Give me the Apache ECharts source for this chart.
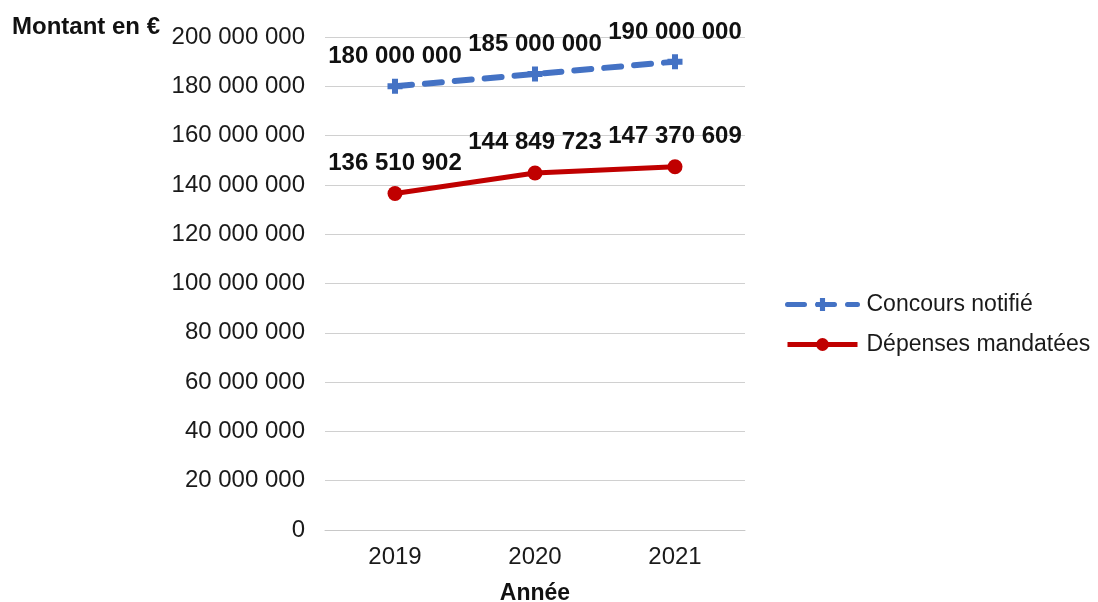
<!DOCTYPE html>
<html><head><meta charset="utf-8">
<script src="https://cdn.jsdelivr.net/npm/echarts@6/dist/echarts.min.js"></script>
<style>html,body{margin:0;padding:0;background:#fff}#c{width:1098px;height:602px}</style>
</head><body><div id="c"></div>
<script>
const categories = ['2019', '2020', '2021'];
const concoursNotifie = [180000000, 185000000, 190000000];
const depensesMandatees = [136510902, 144849723, 147370609];
const seriesNames = ['Concours notifié', 'Dépenses mandatées'];

function fmt(v) {
  return String(Math.round(v)).replace(/\B(?=(\d{3})+(?!\d))/g, ' ');
}
const FONT = '"Liberation Sans", Arial, sans-serif';
const plus = 'path://M3,0h4v3h3v4h-3v3h-4v-3h-3v-4h3z';

const chart = echarts.init(document.getElementById('c'));
chart.setOption({
  animation: false,
  grid: { left: 325, right: 353, top: 37, bottom: 72, outerBoundsMode: 'none', containLabel: false },
  xAxis: {
    type: 'category', data: categories,
    axisLine: { lineStyle: { color: '#c8c8c8', width: 1 } },
    axisTick: { show: false },
    axisLabel: { fontSize: 24, color: '#1a1a1a', fontFamily: FONT, margin: 15 },
    name: 'Année', nameLocation: 'middle', nameGap: 52,
    nameTextStyle: { fontSize: 23, fontWeight: 'bold', color: '#111', fontFamily: FONT }
  },
  yAxis: {
    type: 'value', min: 0, max: 200000000, interval: 20000000,
    axisLine: { show: false }, axisTick: { show: false },
    splitLine: { lineStyle: { color: '#d0d0d0', width: 1 } },
    axisLabel: { fontSize: 24, color: '#1a1a1a', fontFamily: FONT, margin: 20, formatter: fmt }
  },
  legend: {
    orient: 'vertical', left: 780, top: 288,
    itemWidth: 70, itemHeight: 16, itemGap: 17,
    lineStyle: { width: 5 },
    textStyle: { fontSize: 23, color: '#1a1a1a', fontFamily: FONT, padding: [0, 0, 0, 4] },
    data: seriesNames
  },
  graphic: [{
    type: 'text', left: 12, top: 15,
    style: { text: 'Montant en €', font: 'bold 24px ' + FONT, fill: '#111' }
  }],
  series: [{
    name: seriesNames[0], type: 'line', data: concoursNotifie,
    symbol: plus, symbolSize: 15,
    lineStyle: { color: '#4472C4', width: 6, type: [17, 13], cap: 'round' },
    itemStyle: { color: '#4472C4' },
    label: { show: true, position: 'top', distance: 10, fontSize: 24, fontWeight: 'bold', color: '#111', fontFamily: FONT, formatter: p => fmt(p.value) }
  }, {
    name: seriesNames[1], type: 'line', data: depensesMandatees,
    symbol: 'circle', symbolSize: 15,
    lineStyle: { color: '#C00000', width: 5 },
    itemStyle: { color: '#C00000' },
    label: { show: true, position: 'top', distance: 11, fontSize: 24, fontWeight: 'bold', color: '#111', fontFamily: FONT, formatter: p => fmt(p.value) }
  }]
});
</script></body></html>
